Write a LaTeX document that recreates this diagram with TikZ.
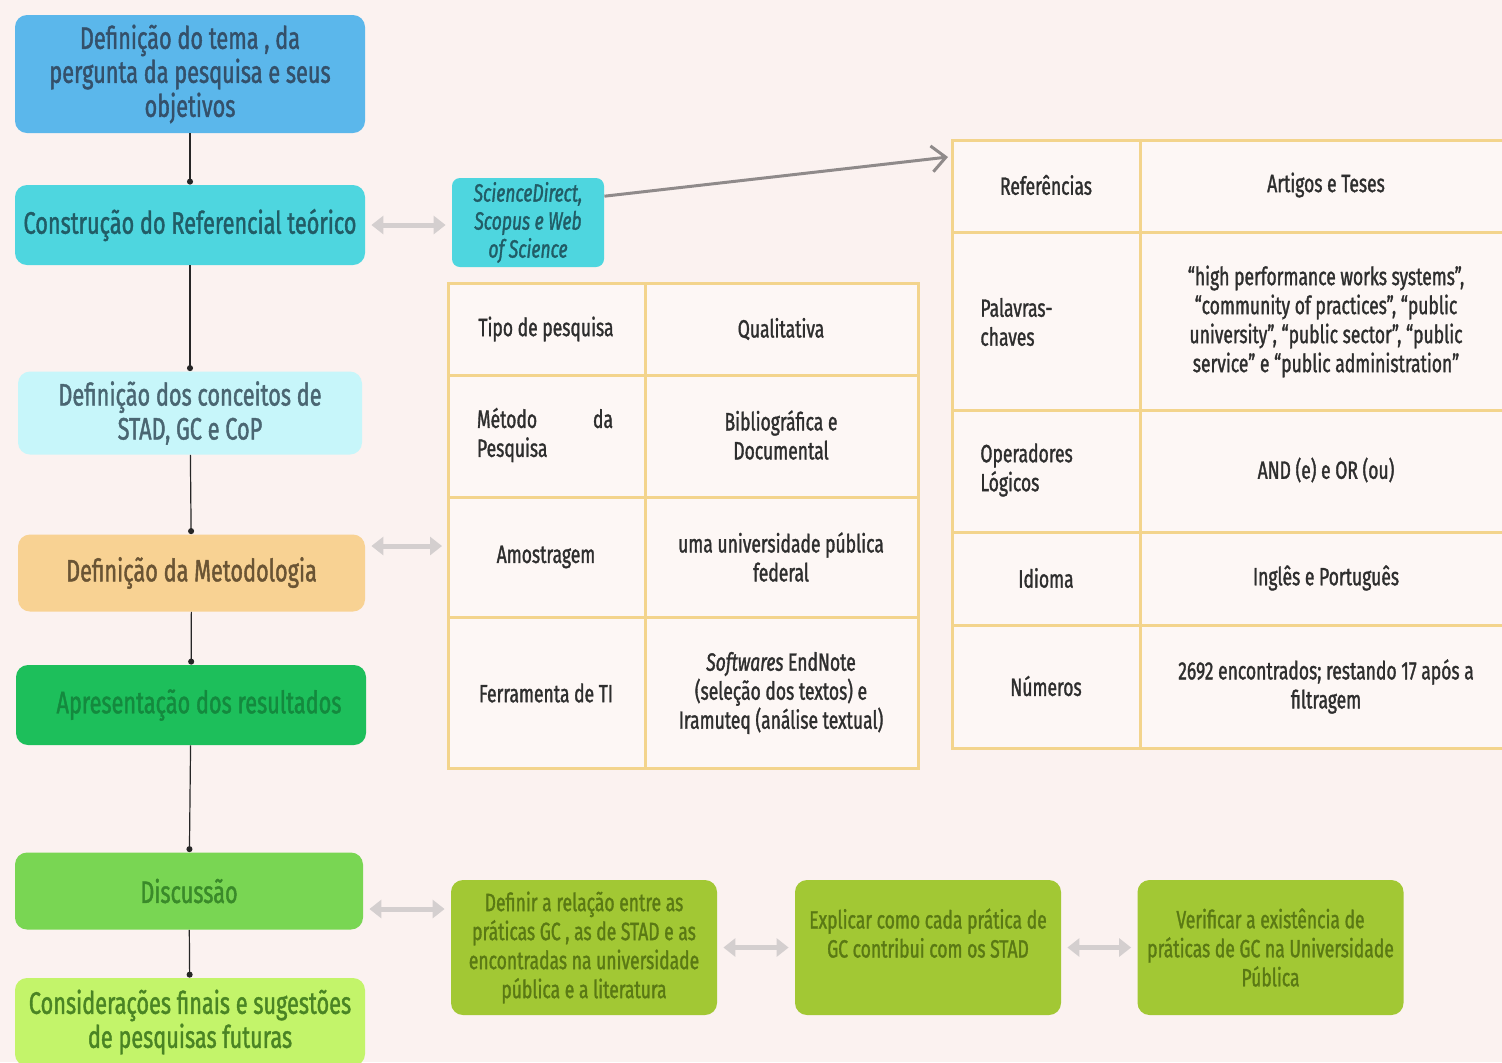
\documentclass[tikz,border=0pt]{standalone}
\usepackage{fontspec}
\setmainfont{Fira Sans}[FakeStretch=0.7, FakeBold=1.3]
\usetikzlibrary{arrows.meta,calc}

\definecolor{paper}{HTML}{FBF2F0}
\definecolor{cellbg}{HTML}{FDF7F5}
\definecolor{gold}{HTML}{F3D48C}
\definecolor{linkgray}{HTML}{D4CFCF}
\definecolor{pathgray}{HTML}{8F8A8A}
\definecolor{tabletext}{HTML}{2E2E2E}
\definecolor{blueA}{HTML}{5BB7EB}\definecolor{blueT}{HTML}{34506A}
\definecolor{cyanA}{HTML}{4ED6DF}\definecolor{cyanT}{HTML}{215C66}
\definecolor{iceA}{HTML}{C7F6FA}\definecolor{iceT}{HTML}{4A6672}
\definecolor{peachA}{HTML}{F8D293}\definecolor{peachT}{HTML}{6A5434}
\definecolor{greenA}{HTML}{1DBF5B}\definecolor{greenT}{HTML}{14893E}
\definecolor{leafA}{HTML}{79D653}\definecolor{leafT}{HTML}{3A8A2A}
\definecolor{limeA}{HTML}{C3F46A}\definecolor{limeT}{HTML}{4A8424}
\definecolor{oliveA}{HTML}{A2C834}\definecolor{oliveT}{HTML}{5A7914}

\tikzset{
  stage/.style={rounded corners=6pt, minimum width=175pt, align=center,
    inner sep=2pt, font=\fontsize{15.5}{17}\selectfont},
  action/.style={rounded corners=6pt, fill=oliveA, text=oliveT, align=center,
    minimum width=133pt, minimum height=67.5pt, inner sep=2pt,
    font=\fontsize{12.5}{14.5}\selectfont},
  flow/.style={draw=black!85, line width=0.6pt, -{Circle[length=3pt]}},
  twoway/.style={draw=linkgray, line width=2.5pt,
    {Triangle[length=6pt,width=9pt]}-{Triangle[length=6pt,width=9pt]},
    shorten <=3pt, shorten >=3pt},
  grid/.style={draw=gold, line width=1.5pt},
  cell/.style={text=tabletext, align=center, inner sep=1pt,
    font=\fontsize{12.5}{14.5}\selectfont},
  lcell/.style={cell, align=left, anchor=west},
}

\begin{document}
\begin{tikzpicture}[x=0.5pt,y=-0.5pt]
\clip (0,0) rectangle (1502,1062);
\fill[paper] (0,0) rectangle (1502,1062);

% ---- main stages (left column)
\node[stage, fill=blueA, text=blueT, minimum height=59pt] (s1) at (190,74)
  {Definição do tema , da\\pergunta da pesquisa e seus\\objetivos};
\node[stage, fill=cyanA, text=cyanT, minimum height=40pt] (s2) at (190,225)
  {Construção do Referencial teórico};
\node[stage, fill=iceA, text=iceT, minimum width=172pt, minimum height=41.5pt] (s3) at (190,413)
  {Definição dos conceitos de\\STAD, GC e CoP};
\node[stage, fill=peachA, text=peachT, minimum width=173.5pt, minimum height=38.5pt] (s4) at (191.5,573)
  {Definição da Metodologia};
\node[stage, fill=greenA, text=greenT, minimum height=40pt] (s5) at (191,705)
  {\hspace{8pt}Apresentação dos resultados};
\node[stage, fill=leafA, text=leafT, minimum width=174pt, minimum height=38.5pt] (s6) at (189,891)
  {Discussão};
\node[stage, fill=limeA, text=limeT, minimum height=44pt] (s7) at (190,1022)
  {Considerações finais e sugestões\\de pesquisas futuras};

\draw[flow] (s1) -- (s2);
\draw[flow] (s2) -- (s3);
\draw[flow] (s3) -- (s4);
\draw[flow] (s4) -- (s5);
\draw[flow] (s5) -- (s6);
\draw[flow] (s6) -- (s7);

% ---- databases
\node[rounded corners=4pt, fill=cyanA, text=cyanT, align=center,
  minimum width=76pt, minimum height=44.5pt, inner sep=1pt,
  font=\fontsize{12.5}{14}\selectfont\itshape] (src) at (528,222.5)
  {ScienceDirect,\\Scopus e Web\\of Science};
\draw[twoway] (s2.east) -- (src.west |- s2.east);

% ---- search protocol table (right)
\fill[cellbg] (952,140) rectangle (1512,748);
\draw[grid] (952,140) rectangle (1512,748);
\draw[grid] (1140,140) -- (1140,748);
\foreach \yy in {232,410,532,625} \draw[grid] (952,\yy) -- (1512,\yy);

\node[cell] (rRef) at (1046,185) {Referências};
\node[cell] (rRefV) at (1326,185) {Artigos e Teses};
\node[lcell] (rKey) at (978,322) {Palavras-\\chaves};
\node[cell] (rKeyV) at (1326,321.5)
  {“high performance works systems”,\\“community of practices”, “public\\university”, “public sector”, “public\\service” e “public administration”};
\node[lcell] (rOp) at (978,470) {Operadores\\Lógicos};
\node[cell] (rOpV) at (1326,470) {AND (e) e OR (ou)};
\node[cell] (rLang) at (1046,578) {Idioma};
\node[cell] (rLangV) at (1326,578) {Inglês e Português};
\node[cell] (rNum) at (1046,686) {Números};
\node[cell] (rNumV) at (1326,686.5) {2692 encontrados; restando 17 após a\\filtragem};

\coordinate (rtab) at (948,157);
\draw[pathgray, line width=1.5pt, -{Straight Barb[length=7pt,width=13pt]}] (src.19) -- (rtab);

% ---- methodology table (middle)
\fill[cellbg] (448,283) rectangle (918,768);
\draw[grid] (448,283) rectangle (918,768);
\draw[grid] (645,283) -- (645,768);
\foreach \yy in {375,497,617} \draw[grid] (448,\yy) -- (918,\yy);

\node[cell] (mType) at (546,329) {Tipo de pesquisa};
\node[cell] (mTypeV) at (781,329) {Qualitativa};
\node[cell, align=left] (mMeth) at (545,435) {\makebox[68pt][l]{Método\hfill da}\\Pesquisa};
\node[cell] (mMethV) at (781,435) {Bibliográfica e\\Documental};
\node[cell] (mSamp) at (546,557) {Amostragem};
\node[cell] (mSampV) at (781,557) {uma universidade pública\\federal};
\node[cell] (mTool) at (546,693) {Ferramenta de TI};
\node[cell] (mToolV) at (781,693) {\textit{Softwares} EndNote\\(seleção dos textos) e\\Iramuteq (análise textual)};

\coordinate (mtab) at (448,546);
\draw[twoway] (s4.east |- mtab) -- (mtab);

% ---- discussion steps (bottom row)
\node[action] (d1) at (584,947.5)
  {Definir a relação entre as\\práticas GC , as de STAD e as\\encontradas na universidade\\pública e a literatura};
\node[action] (d2) at (928,947.5)
  {Explicar como cada prática de\\GC contribui com os STAD\\\mbox{}};
\node[action] (d3) at (1270.5,947.5)
  {Verificar a existência de\\práticas de GC na Universidade\\Pública};

\draw[twoway] ($(s6.east)+(0,18)$) -- ($(d1.west)+(0,-38.5)$);
\draw[twoway] (d1.east) -- (d2.west);
\draw[twoway] (d2.east) -- (d3.west);
\end{tikzpicture}
\end{document}
